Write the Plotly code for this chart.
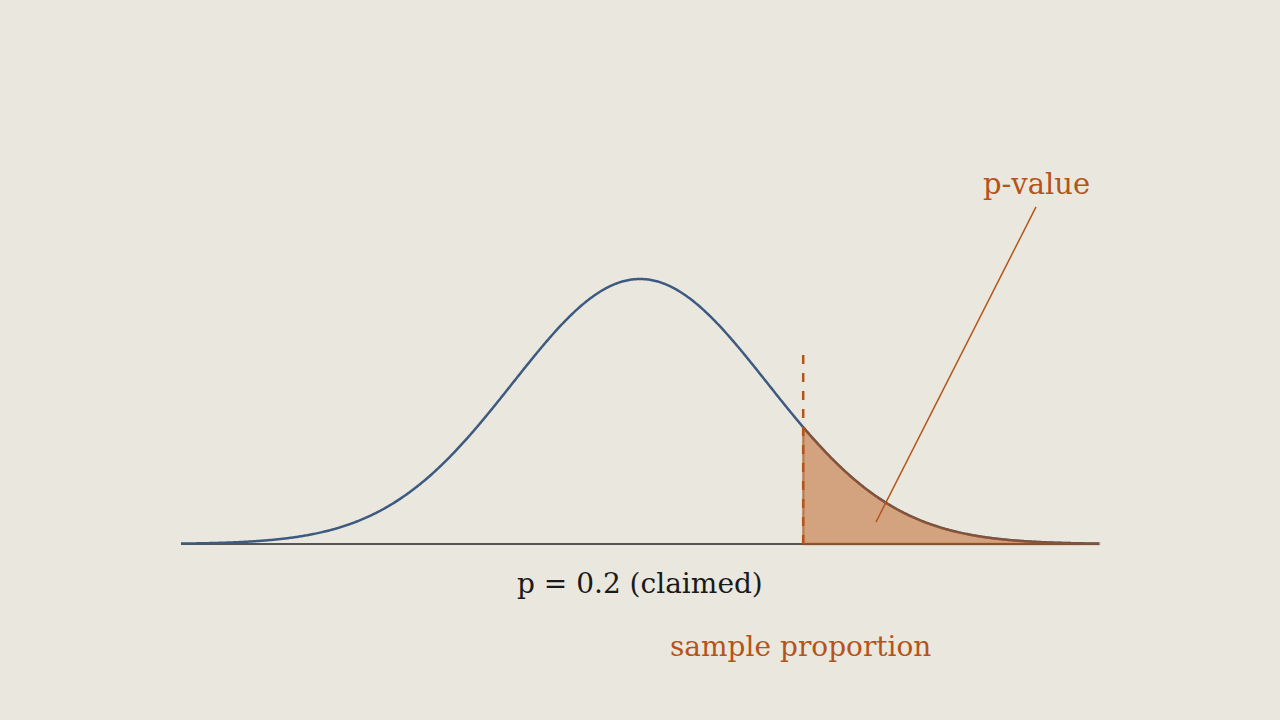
import numpy as np
import plotly.graph_objects as go

# Standard-normal sampling distribution (in z units), parameters
z_min, z_max = -3.6, 3.6
z_cut = 1.28          # observed sample proportion (z)
dash_top = 0.72       # height of the dashed marker (relative to peak)
label_center = "p = 0.2 (claimed)"
label_sample = "sample proportion"
label_pvalue = "p-value"

BG = "#eae8de"
BLUE = "#3d5a80"
ORANGE = "#b5541a"
GRAY = "#555555"
FONT = "DejaVu Serif"

z = np.linspace(z_min, z_max, 800)
dens = np.exp(-z**2 / 2)

zt = z[z >= z_cut]
zt = np.concatenate([[z_cut], zt])
dt = np.exp(-zt**2 / 2)
poly_x = np.concatenate([zt, [z_max, z_cut, z_cut]])
poly_y = np.concatenate([dt, [0, 0, dt[0]]])

fig = go.Figure()
fig.add_trace(go.Scatter(x=[z_min, z_max], y=[0, 0], mode="lines",
                         line=dict(color=GRAY, width=2), hoverinfo="skip"))
fig.add_trace(go.Scatter(x=z, y=dens, mode="lines",
                         line=dict(color=BLUE, width=2.5, simplify=False), hoverinfo="skip"))
fig.add_trace(go.Scatter(x=poly_x, y=poly_y, mode="lines", fill="toself",
                         fillcolor="rgba(184,86,24,0.47)",
                         line=dict(color="rgba(165,78,22,0.55)", width=2.5, simplify=False),
                         hoverinfo="skip"))
fig.add_trace(go.Scatter(x=[z_cut, z_cut], y=[0, dash_top], mode="lines",
                         line=dict(color=ORANGE, width=2.5, dash="9px,9px"),
                         hoverinfo="skip"))
# pointer line for p-value
fig.add_trace(go.Scatter(x=[3.106, 1.851], y=[1.272, 0.083], mode="lines",
                         line=dict(color=ORANGE, width=1.5), hoverinfo="skip"))

px_per_x = 127.5
px_per_y = 265.0
fig.update_layout(
    width=1280, height=720,
    paper_bgcolor=BG, plot_bgcolor=BG,
    margin=dict(l=0, r=0, t=0, b=0),
    showlegend=False,
    xaxis=dict(range=[-640 / px_per_x, 640 / px_per_x], visible=False, fixedrange=True),
    yaxis=dict(range=[-176 / px_per_y, 544 / px_per_y], visible=False, fixedrange=True),
    annotations=[
        dict(x=0, y=-39 / px_per_y, text=label_center, showarrow=False,
             font=dict(family=FONT, size=28, color="#1a1a1a"), xanchor="center", yanchor="middle"),
        dict(x=z_cut - 0.02, y=-102 / px_per_y, text=label_sample, showarrow=False,
             font=dict(family=FONT, size=28, color=ORANGE), xanchor="center", yanchor="middle"),
        dict(x=3.106, y=360 / px_per_y, text=label_pvalue, showarrow=False,
             font=dict(family=FONT, size=29, color=ORANGE), xanchor="center", yanchor="middle"),
    ],
)
fig.write_html("out.html", config={"displayModeBar": False},
               post_script="document.body.style.margin='0';document.body.style.background='%s';" % BG)
